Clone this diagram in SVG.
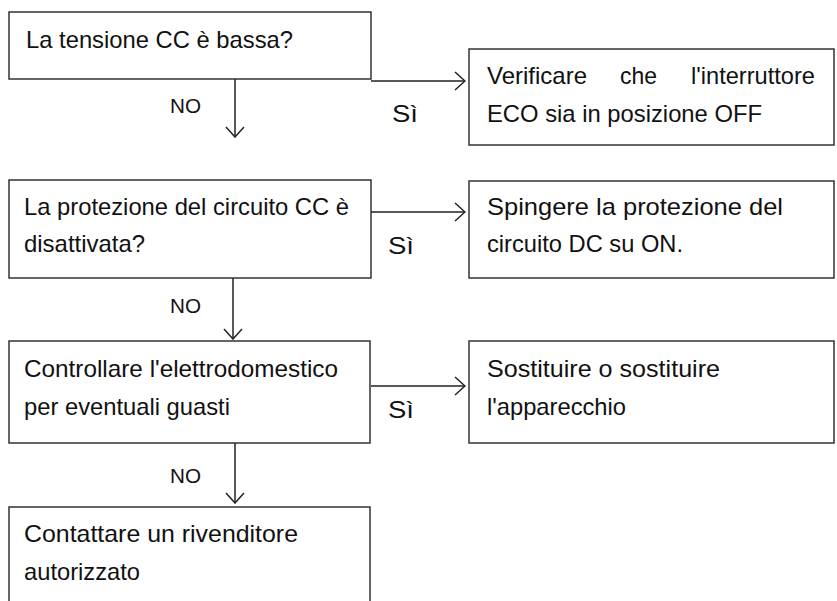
<svg xmlns="http://www.w3.org/2000/svg" width="837" height="601" viewBox="0 0 837 601">
<defs><marker id="a" viewBox="0 0 12 20" refX="11" refY="10" markerWidth="12" markerHeight="20" markerUnits="userSpaceOnUse" orient="auto"><path d="M1,1 L11,10 L1,19" fill="none" stroke="#222" stroke-width="1.5"/></marker></defs>
<style>rect{fill:#fff;stroke:#333;stroke-width:1.5}text{font-family:"Liberation Sans",Arial,sans-serif;font-size:24px;fill:#111}.s{font-size:21px}line{stroke:#222;stroke-width:1.5;marker-end:url(#a)}</style>
<rect width="837" height="601" style="stroke:none"/>
<g id="n1"><rect x="9" y="12" width="362" height="67"/><text x="26" y="48" textLength="267" lengthAdjust="spacingAndGlyphs">La tensione CC è bassa?</text></g>
<g id="n2"><rect x="469" y="49" width="365" height="96"/><text x="487" y="84" textLength="100" lengthAdjust="spacingAndGlyphs">Verificare</text><text x="620" y="84" textLength="37" lengthAdjust="spacingAndGlyphs">che</text><text x="691" y="84" textLength="124" lengthAdjust="spacingAndGlyphs">l'interruttore</text><text x="487" y="122" textLength="275" lengthAdjust="spacingAndGlyphs">ECO sia in posizione OFF</text></g>
<g id="n3"><rect x="9" y="180" width="362" height="98"/><text x="24" y="215" textLength="325" lengthAdjust="spacingAndGlyphs">La protezione del circuito CC è</text><text x="24" y="252" textLength="121" lengthAdjust="spacingAndGlyphs">disattivata?</text></g>
<g id="n4"><rect x="469" y="181" width="365" height="97"/><text x="487" y="215" textLength="296" lengthAdjust="spacingAndGlyphs">Spingere la protezione del</text><text x="487" y="252" textLength="196" lengthAdjust="spacingAndGlyphs">circuito DC su ON.</text></g>
<g id="n5"><rect x="9" y="341" width="361" height="102"/><text x="24" y="377" textLength="314" lengthAdjust="spacingAndGlyphs">Controllare l'elettrodomestico</text><text x="24" y="415" textLength="206" lengthAdjust="spacingAndGlyphs">per eventuali guasti</text></g>
<g id="n6"><rect x="469" y="341" width="365" height="102"/><text x="487" y="377" textLength="233" lengthAdjust="spacingAndGlyphs">Sostituire o sostituire</text><text x="487" y="415" textLength="139" lengthAdjust="spacingAndGlyphs">l'apparecchio</text></g>
<g id="n7"><rect x="9" y="507" width="361" height="110"/><text x="24" y="542" textLength="274" lengthAdjust="spacingAndGlyphs">Contattare un rivenditore</text><text x="24" y="580" textLength="116" lengthAdjust="spacingAndGlyphs">autorizzato</text></g>
<g id="connectors">
<line x1="371" y1="81" x2="465" y2="81"/><line x1="235" y1="79" x2="235" y2="137"/>
<line x1="371" y1="212" x2="465" y2="212"/><line x1="233" y1="278" x2="233" y2="339"/>
<line x1="371" y1="386" x2="465" y2="386"/><line x1="235" y1="443" x2="235" y2="503"/>
<text class="s" x="170" y="113" textLength="31" lengthAdjust="spacingAndGlyphs">NO</text><text x="392" y="122" textLength="26" lengthAdjust="spacingAndGlyphs">Sì</text>
<text class="s" x="170" y="313" textLength="31" lengthAdjust="spacingAndGlyphs">NO</text><text x="388" y="254" textLength="26" lengthAdjust="spacingAndGlyphs">Sì</text>
<text class="s" x="170" y="483" textLength="31" lengthAdjust="spacingAndGlyphs">NO</text><text x="388" y="418" textLength="26" lengthAdjust="spacingAndGlyphs">Sì</text>
</g>
</svg>
